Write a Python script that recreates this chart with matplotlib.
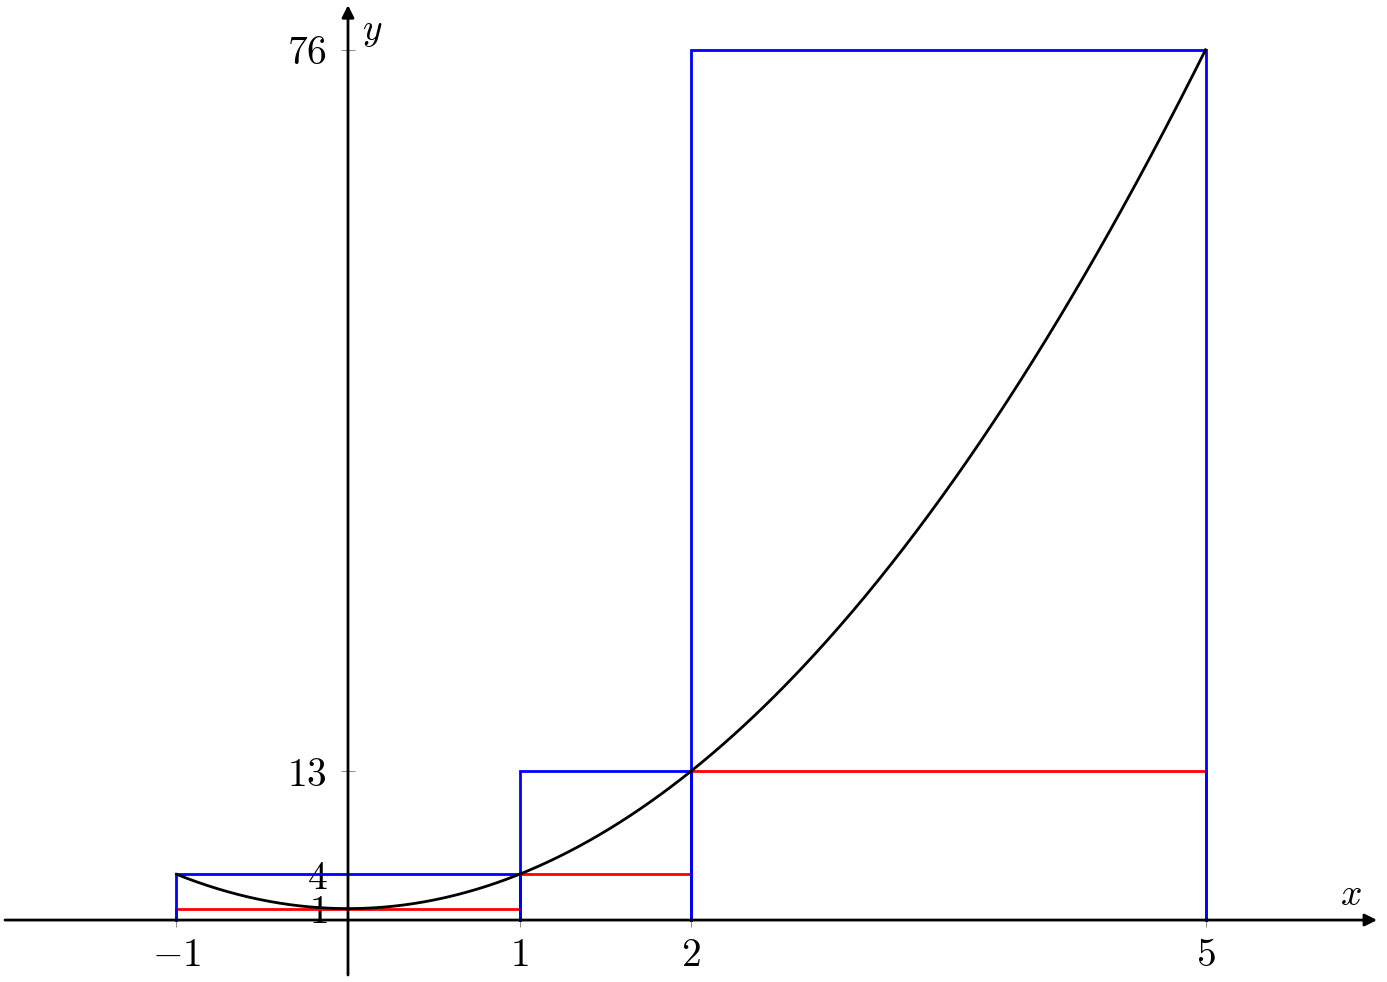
import numpy as np
import matplotlib.pyplot as plt

plt.rcParams["mathtext.fontset"] = "cm"
plt.rcParams["font.family"] = "serif"
plt.rcParams["font.serif"] = ["DejaVu Serif"]

# partition points and function values of f(x) = 3x^2 + 1
partition = [-1, 1, 2, 5]
upper = [4, 13, 76]   # blue: upper sum heights
lower = [1, 4, 13]    # red: lower sum heights
xticks = [-1, 1, 2, 5]
yticks = [1, 4, 13, 76]


def f(x):
    return 3 * x**2 + 1


fig = plt.figure(figsize=(13.87, 9.82), dpi=100)
ax = fig.add_axes([0, 0, 1, 1])
ax.set_xlim(-2.029, 6.058)
ax.set_ylim(-5.41, 80.35)

# lower sums (red) first, upper sums (blue) on top
for a, b, h in zip(partition[:-1], partition[1:], lower):
    ax.plot([a, a, b, b], [0, h, h, 0], color="red", lw=2.0, solid_joinstyle="miter")
for a, b, h in zip(partition[:-1], partition[1:], upper):
    ax.plot([a, a, b, b], [0, h, h, 0], color="blue", lw=2.0, solid_joinstyle="miter")

xs = np.linspace(partition[0], partition[-1], 400)
ax.plot(xs, f(xs), color="black", lw=2.0)

# axes with arrows
ax.annotate("", xy=(6.0, 0), xytext=(-2.0, 0),
            arrowprops=dict(arrowstyle="-|>", lw=2.0, color="black", mutation_scale=18,
                            shrinkA=0, shrinkB=0))
ax.annotate("", xy=(0, 79.9), xytext=(0, -4.8),
            arrowprops=dict(arrowstyle="-|>", lw=2.0, color="black", mutation_scale=18,
                            shrinkA=0, shrinkB=0))
ax.text(5.85, 2.2, r"$x$", fontsize=27, ha="center", va="center")
ax.text(0.08, 77.6, r"$y$", fontsize=27, ha="left", va="center")

for s in ax.spines.values():
    s.set_visible(False)
ax.spines["bottom"].set_position(("data", 0))
ax.spines["left"].set_position(("data", 0))
ax.set_xticks(xticks)
ax.set_xticklabels([r"$%d$" % v for v in xticks])
ax.set_yticks(yticks)
ax.set_yticklabels([r"$%d$" % v for v in yticks])
ax.tick_params(axis="both", direction="inout", length=10, width=0.6, color="#777777",
               labelsize=28.5, pad=7)
ax.tick_params(axis="y", pad=10)

fig.savefig("out.png", dpi=100)
